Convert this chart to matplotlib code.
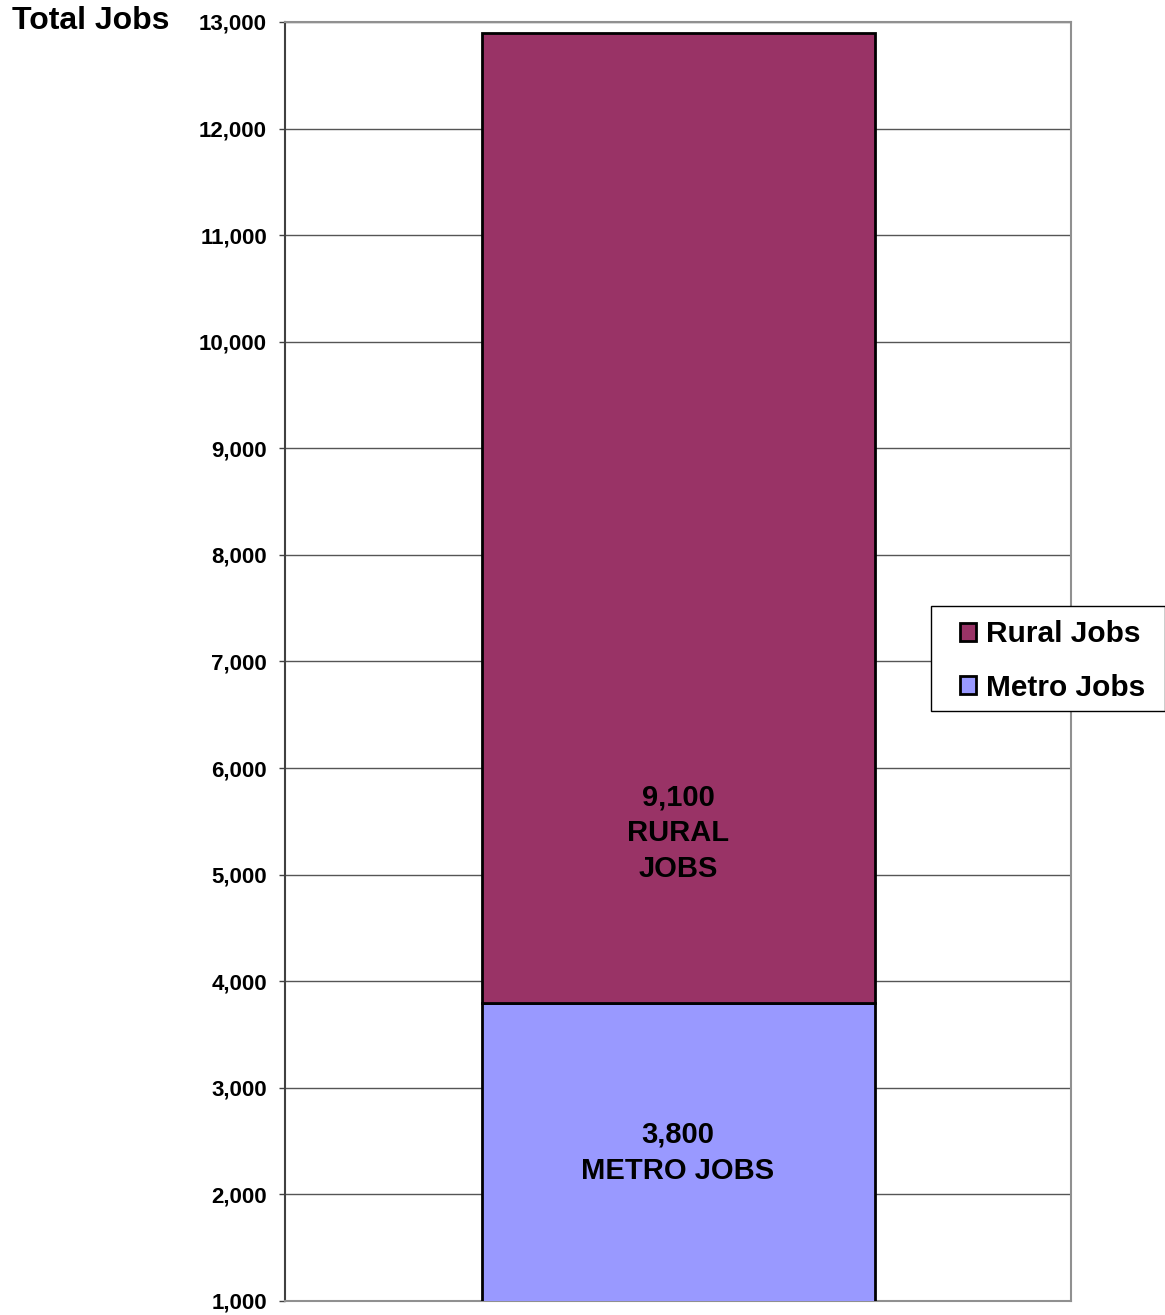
import matplotlib
matplotlib.use("Agg")
from matplotlib import pyplot as plt
from matplotlib.ticker import FuncFormatter
from matplotlib.patches import Rectangle

plt.rcParams['font.family'] = ['Liberation Sans', 'DejaVu Sans']
plt.rcParams['font.weight'] = 'bold'

# data
categories = ["Jobs"]
metro_jobs = [3800]
rural_jobs = [9100]
series_names = ["Rural Jobs", "Metro Jobs"]
rural_color = "#993366"
metro_color = "#9999FF"

W, H = 1165, 1315
fig = plt.figure(figsize=(W / 100, H / 100), dpi=100)
ax = fig.add_axes([285 / W, 1 - 1301 / H, (1071 - 285) / W, (1301 - 22) / H])

x = list(range(len(categories)))
b_metro = ax.bar(x, metro_jobs, width=1.0, color=metro_color, edgecolor="black",
                 linewidth=2, zorder=3, label=series_names[1])
b_rural = ax.bar(x, rural_jobs, bottom=metro_jobs, width=1.0, color=rural_color,
                 edgecolor="black", linewidth=2, zorder=3, label=series_names[0])

ax.set_xlim(-1, 1)
ax.set_ylim(1000, 13000)
ax.set_yticks(range(1000, 13001, 1000))
ax.yaxis.set_major_formatter(FuncFormatter(lambda v, p: "{:,.0f}".format(v)))
ax.set_xticks([])
ax.tick_params(axis="y", labelsize=16, length=4.3, width=1, color="#404040", pad=8.6)
for lbl in ax.get_yticklabels():
    lbl.set_fontweight("bold")

ax.grid(axis="y", color="#555555", linewidth=1, zorder=0)
ax.set_axisbelow(True)
ax.spines["left"].set_color("#404040")
ax.spines["left"].set_linewidth(1.5)
for s in ["top", "right", "bottom"]:
    ax.spines[s].set_color("#909090")
    ax.spines[s].set_linewidth(1.5)

# segment labels
ax.text(x[0], 2390, "{:,}\nMETRO JOBS".format(metro_jobs[0]), ha="center", va="center",
        fontsize=21, fontweight="bold", linespacing=1.35, zorder=4)
ax.text(x[0], 5390, "{:,}\nRURAL\nJOBS".format(rural_jobs[0]), ha="center", va="center",
        fontsize=21, fontweight="bold", linespacing=1.35, zorder=4)

fig.text(12 / W, 1 - 21 / H, "Total Jobs", ha="left", va="center",
         fontsize=23, fontweight="bold")

# legend frame drawn by hand so it runs off the right edge like the original
fig.patches.append(Rectangle((931 / W, 1 - 711 / H), (W - 931) / W, (711 - 606) / H,
                             transform=fig.transFigure, facecolor="white",
                             edgecolor="black", linewidth=1, zorder=5))
leg = fig.legend([b_rural, b_metro], series_names, loc="center left",
                 bbox_to_anchor=(960 / W, 1 - 661 / H), fontsize=21.5,
                 frameon=False, handlelength=0.55, handleheight=0.55,
                 handletextpad=0.33, borderpad=0, labelspacing=0.84, borderaxespad=0)
leg.set_zorder(6)
for t in leg.get_texts():
    t.set_fontweight("bold")

fig.savefig("out.png", dpi=100)
